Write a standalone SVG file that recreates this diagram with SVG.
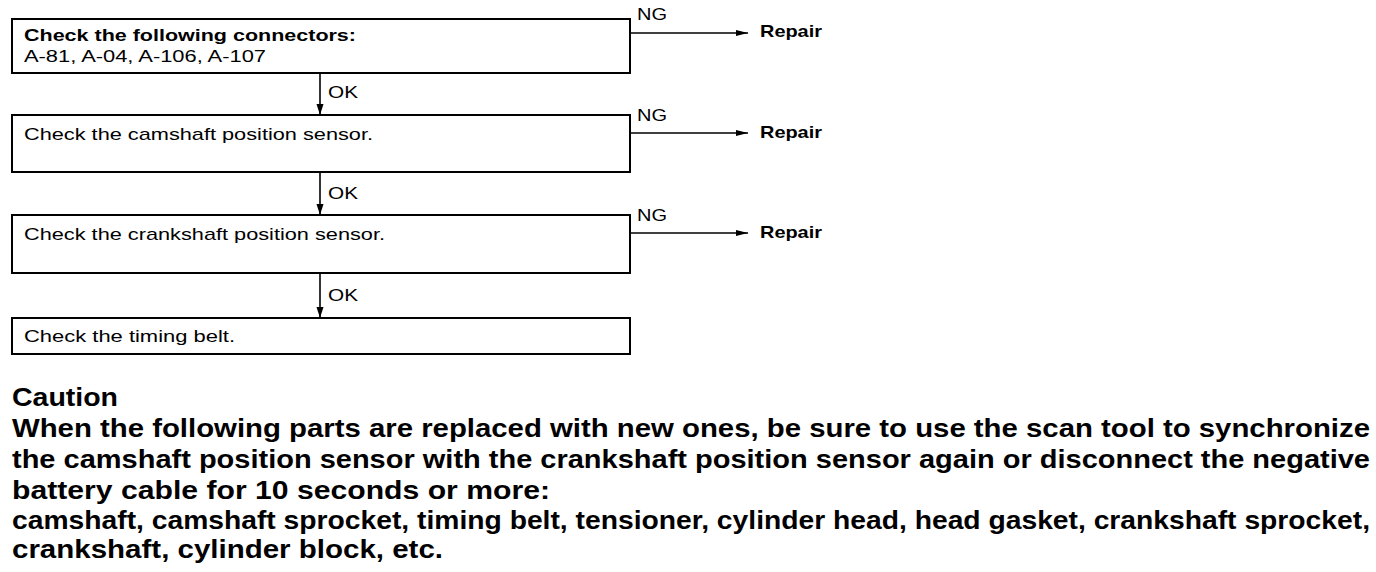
<svg xmlns="http://www.w3.org/2000/svg" width="1376" height="572" viewBox="0 0 1376 572">
<defs>
<marker id="ah" viewBox="0 0 12 8" refX="12" refY="4" markerWidth="12" markerHeight="8" markerUnits="userSpaceOnUse" orient="auto"><path d="M0,1 L12,4 L0,7 Z" fill="#000"/></marker>
<marker id="ahv" viewBox="0 0 11 8" refX="11" refY="4" markerWidth="11" markerHeight="8" markerUnits="userSpaceOnUse" orient="auto"><path d="M0,0.5 L11,4 L0,7.5 Z" fill="#000"/></marker>
</defs>
<style>
.box{fill:#fff;stroke:#000;stroke-width:2}
.t{font-family:"Liberation Sans",Arial,sans-serif;font-size:17px;fill:#000}
.l{font-family:"Liberation Sans",Arial,sans-serif;font-size:17px;fill:#000}
.b{font-weight:bold}
.c{font-family:"Liberation Sans",Arial,sans-serif;font-size:25px;font-weight:bold;fill:#000}
.ln{stroke:#000;stroke-width:1.6;fill:none}
</style>
<rect width="1376" height="572" fill="#fff"/>
<g id="node1">
<rect class="box" x="12" y="19" width="618" height="54"/>
<text class="t b" x="24" y="41" textLength="332" lengthAdjust="spacingAndGlyphs">Check the following connectors:</text>
<text class="t" x="24" y="62" textLength="242" lengthAdjust="spacingAndGlyphs">A-81, A-04, A-106, A-107</text>
</g>
<g id="node2">
<rect class="box" x="12" y="115" width="618" height="57"/>
<text class="t" x="24" y="140" textLength="349" lengthAdjust="spacingAndGlyphs">Check the camshaft position sensor.</text>
</g>
<g id="node3">
<rect class="box" x="12" y="215" width="618" height="58"/>
<text class="t" x="24" y="240" textLength="361" lengthAdjust="spacingAndGlyphs">Check the crankshaft position sensor.</text>
</g>
<g id="node4">
<rect class="box" x="12" y="318" width="618" height="36"/>
<text class="t" x="24" y="342" textLength="211" lengthAdjust="spacingAndGlyphs">Check the timing belt.</text>
</g>
<g id="repair1"><text class="t b" x="760" y="37" textLength="62" lengthAdjust="spacingAndGlyphs">Repair</text></g>
<g id="repair2"><text class="t b" x="760" y="138" textLength="62" lengthAdjust="spacingAndGlyphs">Repair</text></g>
<g id="repair3"><text class="t b" x="760" y="238" textLength="62" lengthAdjust="spacingAndGlyphs">Repair</text></g>
<g id="connectors">
<line class="ln" x1="320" y1="73" x2="320" y2="115" marker-end="url(#ahv)"/>
<line class="ln" x1="320" y1="172" x2="320" y2="215" marker-end="url(#ahv)"/>
<line class="ln" x1="320" y1="273" x2="320" y2="318" marker-end="url(#ahv)"/>
<line class="ln" x1="630" y1="33" x2="748" y2="33" marker-end="url(#ah)"/>
<line class="ln" x1="630" y1="133" x2="748" y2="133" marker-end="url(#ah)"/>
<line class="ln" x1="630" y1="233" x2="748" y2="233" marker-end="url(#ah)"/>
<text class="l" x="328" y="98" textLength="30" lengthAdjust="spacingAndGlyphs">OK</text>
<text class="l" x="328" y="199" textLength="30" lengthAdjust="spacingAndGlyphs">OK</text>
<text class="l" x="328" y="301" textLength="30" lengthAdjust="spacingAndGlyphs">OK</text>
<text class="l" x="637" y="20" textLength="30" lengthAdjust="spacingAndGlyphs">NG</text>
<text class="l" x="637" y="121" textLength="30" lengthAdjust="spacingAndGlyphs">NG</text>
<text class="l" x="637" y="221" textLength="30" lengthAdjust="spacingAndGlyphs">NG</text>
</g>
<g id="caution">
<text class="c" x="12" y="406" textLength="106" lengthAdjust="spacingAndGlyphs">Caution</text>
<text class="c" x="12" y="437" textLength="1358" lengthAdjust="spacingAndGlyphs">When the following parts are replaced with new ones, be sure to use the scan tool to synchronize</text>
<text class="c" x="12" y="468" textLength="1358" lengthAdjust="spacingAndGlyphs">the camshaft position sensor with the crankshaft position sensor again or disconnect the negative</text>
<text class="c" x="12" y="499" textLength="538" lengthAdjust="spacingAndGlyphs">battery cable for 10 seconds or more:</text>
<text class="c" x="12" y="529" textLength="1358" lengthAdjust="spacingAndGlyphs">camshaft, camshaft sprocket, timing belt, tensioner, cylinder head, head gasket, crankshaft sprocket,</text>
<text class="c" x="12" y="558" textLength="431" lengthAdjust="spacingAndGlyphs">crankshaft, cylinder block, etc.</text>
</g>
</svg>
